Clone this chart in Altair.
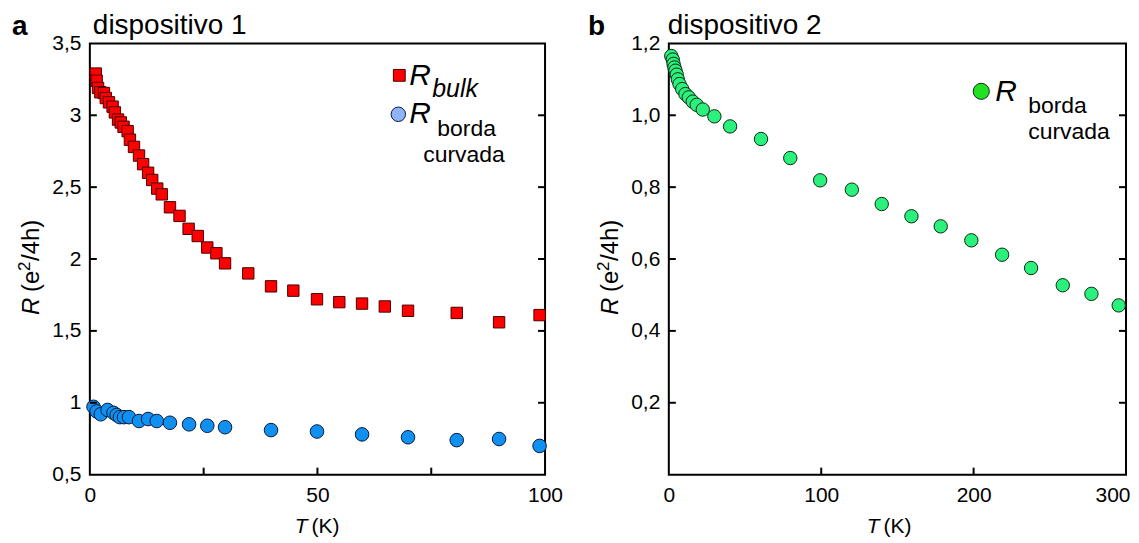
import altair as alt
import pandas as pd

FONT = "Liberation Sans"

# ---- panel a (dispositivo 1) ----
T_bulk = [1.3, 1.5, 1.8, 2.3, 3.1, 3.5, 4.2, 5.0, 5.5, 6.2, 6.8, 7.4, 8.3, 8.8, 9.7,
          10.8, 11.7, 12.8, 13.7, 14.8, 15.8, 17.6, 19.7, 21.7, 23.7, 25.8, 27.8,
          29.7, 34.8, 39.8, 44.7, 49.9, 54.8, 59.8, 64.8, 69.9, 80.6, 89.9, 98.8]
R_bulk = [3.29, 3.24, 3.19, 3.16, 3.155, 3.12, 3.09, 3.06, 3.02, 2.97, 2.95, 2.92, 2.89,
          2.83, 2.78, 2.72, 2.66, 2.60, 2.55, 2.49, 2.45, 2.36, 2.30, 2.21, 2.16, 2.08,
          2.04, 1.97, 1.90, 1.81, 1.78, 1.72, 1.70, 1.69, 1.67, 1.64, 1.625, 1.56, 1.61]

T_borda1 = [0.8, 1.5, 2.4, 3.9, 5.2, 5.9, 6.6, 7.5, 8.6, 10.8, 12.8, 14.7, 17.6, 21.8,
            25.8, 29.7, 39.8, 49.9, 59.8, 69.9, 80.6, 89.9, 98.8]
R_borda1 = [0.972, 0.94, 0.92, 0.95, 0.93, 0.915, 0.90, 0.90, 0.90, 0.873, 0.887, 0.873,
            0.861, 0.85, 0.84, 0.83, 0.81, 0.80, 0.78, 0.76, 0.74, 0.748, 0.70]

# ---- panel b (dispositivo 2) ----
T_borda2 = [1.6, 2.6, 3.1, 3.7, 4.4, 5.2, 5.9, 7.0, 8.8, 10.9, 13.1, 15.7, 18.3, 22.3,
            29.9, 40.2, 60.5, 79.7, 99.3, 120.1, 139.7, 159.2, 178.4, 198.5, 218.7,
            237.7, 258.5, 277.3, 295.2]
R_borda2 = [1.165, 1.155, 1.143, 1.133, 1.124, 1.113, 1.10, 1.087, 1.073, 1.059, 1.05,
            1.038, 1.029, 1.016, 0.997, 0.969, 0.934, 0.881, 0.819, 0.793, 0.753, 0.719,
            0.691, 0.652, 0.612, 0.575, 0.527, 0.503, 0.471]

# tick values / labels
ya_labels = [0.5, 1, 1.5, 2, 2.5, 3, 3.5]
ya_ticks = [1, 1.5, 2, 2.5, 3]
xa_labels = [0, 50, 100]
xa_ticks = [25, 50, 75]
yb_labels = [0.2, 0.4, 0.6, 0.8, 1.0, 1.2]
yb_ticks = [0.2, 0.4, 0.6, 0.8, 1.0]
xb_labels = [0, 100, 200, 300]
xb_ticks = [100, 200]

W1, W2, H = 456, 458, 432
TICK = 7

RED, RED_EDGE = "#ff0000", "#4a0000"
BLUE, BLUE_EDGE = "#1090f0", "#0a1a3a"
BLUE_LEG = "#8fb4f5"
GREEN, GREEN_EDGE = "#2af07c", "#0a2a14"
GREEN_LEG = "#22e022"


def axis_x(values, last=None):
    kw = {}
    if last is not None:
        kw["labelAlign"] = {"condition": {"test": f"datum.value == {last}", "value": "right"},
                            "value": "center"}
        kw["labelOffset"] = {"condition": {"test": f"datum.value == {last}", "value": 4},
                             "value": 0}
    return alt.Axis(values=values, title=None, domain=False, ticks=False, tickSize=0,
                    grid=False, labelFont=FONT, labelFontSize=21, labelColor="black",
                    labelPadding=10, labelFlush=False, **kw)


def axis_y(values, fmt):
    return alt.Axis(values=values, title=None, domain=False, ticks=False, tickSize=0,
                    grid=False, labelFont=FONT, labelFontSize=21, labelColor="black",
                    labelPadding=9, labelFlush=False,
                    labelExpr=f"replace(format(datum.value, '{fmt}'), '.', ',')")


def txt(s, x, y, size=21, style="normal", weight="normal", angle=0, align="left",
        baseline="alphabetic"):
    return alt.Chart(pd.DataFrame({"t": [s]})).mark_text(
        font=FONT, fontSize=size, fontStyle=style, fontWeight=weight, angle=angle,
        align=align, baseline=baseline, color="black"
    ).encode(x=alt.value(x), y=alt.value(y), text="t:N")


def ytitle(x):
    # "R (e2/4h)" rotated, reading upward; R italic, 2 as superscript
    return [
        txt("R", x, 272, size=24, style="italic", angle=270, baseline="middle"),
        txt("(e", x, 249, size=24, angle=270, baseline="middle"),
        txt("2", x - 7, 228, size=17, angle=270, baseline="middle"),
        txt("/4h)", x, 218, size=24, angle=270, baseline="middle"),
    ]


def ticks_layers(xs, ys, xvals, yvals, w):
    left = alt.Chart(pd.DataFrame({"v": yvals})).mark_rule(color="black", strokeWidth=2).encode(
        y=alt.Y("v:Q", scale=ys), x=alt.value(0), x2=alt.value(TICK))
    right = alt.Chart(pd.DataFrame({"v": yvals})).mark_rule(color="black", strokeWidth=2).encode(
        y=alt.Y("v:Q", scale=ys), x=alt.value(w - TICK), x2=alt.value(w))
    bottom = alt.Chart(pd.DataFrame({"v": xvals})).mark_rule(color="black", strokeWidth=2).encode(
        x=alt.X("v:Q", scale=xs), y=alt.value(H - TICK), y2=alt.value(H))
    return [left, right, bottom]


# ---------------- panel a ----------------
xs_a = alt.Scale(domain=[0, 100], nice=False, zero=False)
ys_a = alt.Scale(domain=[0.5, 3.5], nice=False, zero=False)

df_bulk = pd.DataFrame({"T": T_bulk, "R": R_bulk})
df_b1 = pd.DataFrame({"T": T_borda1, "R": R_borda1})

bulk = alt.Chart(df_bulk).mark_square(size=130, fill=RED, stroke=RED_EDGE, strokeWidth=1,
                                      opacity=1).encode(
    x=alt.X("T:Q", scale=xs_a, axis=axis_x(xa_labels)),
    y=alt.Y("R:Q", scale=ys_a, axis=axis_y(ya_labels, ".1~f")))
borda1 = alt.Chart(df_b1).mark_circle(size=185, fill=BLUE, stroke=BLUE_EDGE, strokeWidth=1,
                                      opacity=1).encode(
    x=alt.X("T:Q", scale=xs_a), y=alt.Y("R:Q", scale=ys_a))

leg_sq = alt.Chart(pd.DataFrame({"k": ["bulk"]})).mark_square(
    size=140, fill=RED, stroke=RED_EDGE, strokeWidth=1, opacity=1).encode(
    x=alt.value(310), y=alt.value(32))
leg_ci = alt.Chart(pd.DataFrame({"k": ["borda"]})).mark_circle(
    size=210, fill=BLUE_LEG, stroke=BLUE_EDGE, strokeWidth=1, opacity=1).encode(
    x=alt.value(309), y=alt.value(71))

panel_a = alt.layer(
    bulk, borda1, *ticks_layers(xs_a, ys_a, xa_ticks, ya_ticks, W1),
    leg_sq, leg_ci,
    txt("R", 320, 42, size=30, style="italic"),
    txt("bulk", 343, 54, size=25, style="italic"),
    txt("R", 320, 80, size=30, style="italic"),
    txt("borda", 348, 93, size=23),
    txt("curvada", 334, 119, size=23),
    txt("a", -78, -8, size=28, weight="bold"),
    txt("dispositivo 1", 3, -9, size=28),
    txt("T", 218, 490, style="italic", align="right"),
    txt("(K)", 222, 490),
    *ytitle(-58),
).properties(width=W1, height=H)

# ---------------- panel b ----------------
xs_b = alt.Scale(domain=[0, 300], nice=False, zero=False)
ys_b = alt.Scale(domain=[0, 1.2], nice=False, zero=False)

df_b2 = pd.DataFrame({"T": T_borda2, "R": R_borda2})
borda2 = alt.Chart(df_b2).mark_circle(size=180, fill=GREEN, stroke=GREEN_EDGE, strokeWidth=1,
                                      opacity=1).encode(
    x=alt.X("T:Q", scale=xs_b, axis=axis_x(xb_labels, last=300)),
    y=alt.Y("R:Q", scale=ys_b, axis=axis_y(yb_labels, ".1f")))

leg_gr = alt.Chart(pd.DataFrame({"k": ["borda"]})).mark_circle(
    size=260, fill=GREEN_LEG, stroke=GREEN_EDGE, strokeWidth=1, opacity=1).encode(
    x=alt.value(313), y=alt.value(48))

panel_b = alt.layer(
    borda2, *ticks_layers(xs_b, ys_b, xb_ticks, yb_ticks, W2),
    leg_gr,
    txt("R", 327, 58, size=30, style="italic"),
    txt("borda", 360, 70, size=23),
    txt("curvada", 360, 96, size=23),
    txt("b", -81, -8, size=28, weight="bold"),
    txt("dispositivo 2", -1, -9, size=28),
    txt("T", 211, 490, style="italic", align="right"),
    txt("(K)", 215, 490),
    *ytitle(-58),
).properties(width=W2, height=H)

chart = alt.hconcat(panel_a, panel_b, spacing=124, bounds="flush").properties(
    padding={"left": 3, "top": 3, "right": 0, "bottom": 0},
    background="white",
).configure_view(stroke="black", strokeWidth=2)

chart.save("out.html", embed_options={"renderer": "svg", "actions": False})
